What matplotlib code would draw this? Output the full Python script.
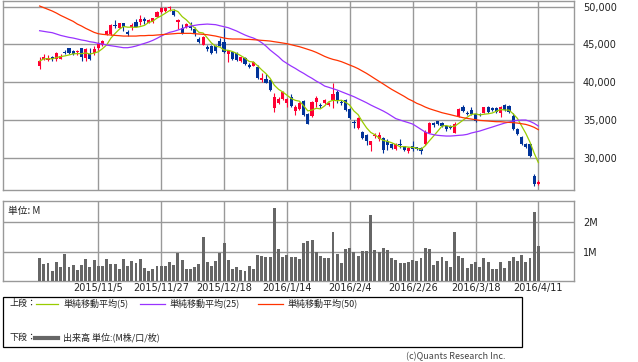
import numpy as np
import pandas as pd
import matplotlib
matplotlib.use('Agg')
import matplotlib.pyplot as plt
from matplotlib.lines import Line2D
from matplotlib.patches import Rectangle
from matplotlib.ticker import FuncFormatter

plt.rcParams['font.family'] = ['Noto Sans CJK JP', 'DejaVu Sans']

# 日付ラベル (15営業日ごと)
date_labels = ['2015/11/5', '2015/11/27', '2015/12/18', '2016/1/14',
               '2016/2/4', '2016/2/26', '2016/3/18', '2016/4/11']
date_pos = [14, 29, 44, 59, 74, 89, 104, 119]

# 四本値
opens = [42190, 43030, 42940, 43380, 43030, 43110, 44040, 44480, 44170, 43950,
         44480, 43160, 43690, 43820, 44480, 44920, 46340, 46340, 47570, 47220,
         47790, 46600, 47350, 48010, 48010, 48320, 47880, 48010, 48680, 49250,
         49380, 49780, 49470, 48010, 47130, 47350, 47440, 47040, 45680, 44880,
         44700, 44790, 44790, 45500, 45360, 43730, 44040, 43910, 42800, 43160,
         42270, 42190, 42050, 40290, 40380, 40290, 36530, 37200, 37730, 37200,
         38080, 36230, 36400, 37500, 35780, 35520, 37420, 36970, 37200, 36980,
         37640, 38740, 37420, 37640, 36400, 34770, 33870, 33340, 33030, 31620,
         32860, 32500, 32590, 32150, 31800, 31090, 31800, 31490, 30930, 31540,
         31360, 31270, 31810, 33300, 34550, 34860, 34640, 34200, 34110, 33300,
         35340, 36660, 35960, 36310, 35780, 35780, 35960, 36660, 36530, 36530,
         35870, 36970, 36840, 35520, 33760, 32740, 31760, 31850, 27580, 26520]
highs = [43290, 43730, 43600, 43470, 44040, 43690, 44260, 44570, 44260, 44260,
         44570, 44480, 44480, 44790, 45360, 45590, 46910, 47700, 48230, 47880,
         47880, 46910, 47790, 48370, 48900, 48590, 48320, 48540, 49430, 49910,
         50000, 50130, 49650, 48370, 47700, 47790, 47970, 47260, 45940, 46120,
         44880, 44920, 44880, 45810, 47130, 44260, 44130, 44040, 43380, 43290,
         42580, 42760, 42270, 41170, 41080, 40380, 38520, 38080, 38880, 37950,
         38390, 36980, 37420, 37640, 35870, 37500, 38170, 37200, 37820, 37420,
         39850, 38960, 37640, 37730, 36530, 34990, 35430, 33480, 33120, 32240,
         33250, 33340, 32680, 32500, 31930, 31890, 32500, 31580, 31360, 32150,
         31450, 31360, 33650, 34770, 34770, 34900, 34720, 34280, 34280, 34770,
         36540, 36980, 36220, 36750, 35870, 35870, 36750, 36840, 36660, 36660,
         36840, 37060, 36930, 35870, 33980, 32870, 31980, 31980, 27840, 27050]
lows = [41750, 42940, 42850, 42850, 42850, 43030, 43690, 43730, 43600, 43600,
        42850, 42850, 42940, 43600, 44260, 44790, 46200, 46250, 47130, 47130,
        46820, 46120, 46910, 47260, 47570, 47700, 47790, 47880, 48590, 49210,
        49340, 49470, 48760, 46990, 46340, 47130, 46910, 46120, 45140, 44880,
        44170, 43730, 43910, 44830, 43820, 42720, 42940, 42850, 42720, 42270,
        41830, 42140, 40380, 40070, 39850, 38880, 36090, 37060, 37640, 36760,
        36760, 35650, 36310, 35520, 34460, 35430, 36760, 36530, 37060, 36840,
        36530, 37200, 36980, 36230, 35120, 33960, 33780, 32500, 31620, 30930,
        32590, 32150, 30660, 31050, 31180, 31000, 31270, 30930, 30660, 30930,
        31050, 30530, 31670, 33210, 34100, 34330, 34110, 33560, 33760, 33300,
        35340, 36090, 35650, 35650, 34770, 35560, 35870, 35960, 36180, 35960,
        35340, 36220, 35870, 33650, 33000, 31670, 31320, 30130, 26300, 26350]
closes = [42800, 43380, 43160, 43030, 43910, 43470, 43820, 43820, 43730, 44130,
          43380, 44350, 43070, 44350, 45010, 45450, 46820, 47570, 47390, 47790,
          47350, 46340, 47570, 47260, 48320, 48140, 48230, 48450, 49340, 49780,
          49870, 50000, 48900, 48230, 46470, 47700, 47170, 46380, 45320, 46030,
          44440, 43820, 44170, 44830, 44040, 44260, 43030, 42940, 43290, 42410,
          42050, 42670, 40510, 40510, 39940, 38960, 38080, 37820, 38740, 37820,
          36840, 36760, 37280, 35650, 34460, 37420, 37950, 36840, 37640, 37200,
          38390, 37640, 37200, 36310, 35210, 34550, 35210, 32590, 32230, 32150,
          33030, 33030, 30970, 31620, 31270, 31800, 31620, 31050, 31270, 31140,
          31180, 30840, 33430, 34630, 34280, 34420, 34200, 33760, 33940, 34460,
          36400, 36220, 35780, 35780, 34900, 35650, 36660, 36090, 36310, 36090,
          36750, 36310, 36090, 33760, 33100, 31760, 31400, 30220, 26520, 26830]

# 出来高 (M)
volume = [0.80, 0.59, 0.62, 0.36, 0.66, 0.49, 0.92, 0.49, 0.56, 0.39,
          0.56, 0.76, 0.49, 0.72, 0.52, 0.52, 0.76, 0.59, 0.59, 0.42,
          0.76, 0.52, 0.69, 0.62, 0.76, 0.46, 0.36, 0.42, 0.52, 0.52,
          0.52, 0.66, 0.56, 0.96, 0.72, 0.42, 0.42, 0.49, 0.59, 1.52,
          0.66, 0.52, 0.69, 0.96, 1.32, 0.72, 0.42, 0.49, 0.39, 0.36,
          0.52, 0.42, 0.89, 0.86, 0.82, 0.82, 2.49, 1.09, 0.82, 0.89,
          0.82, 0.82, 0.76, 1.29, 1.36, 1.42, 0.99, 0.86, 0.79, 0.79,
          1.66, 0.92, 0.62, 1.09, 1.12, 0.99, 0.86, 1.02, 1.02, 2.26,
          1.06, 0.99, 1.12, 1.06, 0.79, 0.72, 0.62, 0.62, 0.66, 0.72,
          0.69, 0.79, 1.12, 1.09, 0.56, 0.69, 0.82, 0.69, 0.49, 1.66,
          0.86, 0.79, 0.46, 0.59, 0.66, 0.49, 0.79, 0.66, 0.42, 0.42,
          0.66, 0.46, 0.69, 0.82, 0.69, 0.89, 0.66, 0.79, 2.36, 1.19]

# 移動平均 (25日, 50日) - 画面外の過去データを含むので読み取り値
ma25 = [46820, 46730, 46640, 46560, 46380, 46200, 46070, 45940, 45850, 45720,
        45590, 45500, 45360, 45280, 45140, 45060, 44920, 44830, 44750, 44660,
        44570, 44570, 44660, 44790, 44970, 45140, 45320, 45540, 45810, 46110,
        46380, 46600, 46730, 46910, 47090, 47310, 47440, 47530, 47620, 47660,
        47700, 47660, 47620, 47480, 47350, 47220, 47000, 46780, 46510, 46250,
        46030, 45850, 45590, 45230, 44790, 44260, 43820, 43380, 42850, 42490,
        42140, 41830, 41480, 41170, 40820, 40510, 40150, 39850, 39490, 39320,
        39140, 38960, 38740, 38520, 38300, 38080, 37810, 37550, 37280, 36980,
        36710, 36450, 36180, 35870, 35520, 35170, 34990, 34810, 34640, 34460,
        34110, 33750, 33400, 33180, 33050, 32960, 32910, 32870, 32870, 32910,
        32960, 33000, 33090, 33270, 33400, 33530, 33710, 33890, 34060, 34240,
        34420, 34590, 34720, 34860, 34950, 34990, 34990, 34810, 34550, 34190]
ma50 = [50090, 49870, 49650, 49430, 49160, 48850, 48590, 48320, 48060, 47700,
        47440, 47130, 46870, 46600, 46420, 46340, 46290, 46250, 46200, 46160,
        46110, 46110, 46110, 46110, 46160, 46160, 46200, 46200, 46250, 46290,
        46340, 46380, 46420, 46470, 46470, 46470, 46470, 46420, 46380, 46340,
        46290, 46200, 46110, 45980, 45850, 45760, 45720, 45720, 45720, 45670,
        45670, 45630, 45590, 45540, 45500, 45450, 45360, 45280, 45190, 45100,
        44970, 44830, 44700, 44530, 44350, 44170, 43950, 43690, 43420, 43200,
        43020, 42890, 42720, 42500, 42270, 42050, 41790, 41480, 41170, 40820,
        40460, 40110, 39760, 39400, 39050, 38740, 38430, 38120, 37770, 37510,
        37200, 36980, 36710, 36490, 36310, 36140, 35960, 35830, 35700, 35560,
        35430, 35300, 35210, 35120, 35030, 34940, 34900, 34860, 34810, 34770,
        34770, 34720, 34680, 34640, 34590, 34500, 34410, 34240, 34020, 33710]

col_up = '#ff0033'
col_down = '#003399'
col_ma5 = '#99cc00'
col_ma25 = '#9933ff'
col_ma50 = '#ff3300'
col_grid = '#999999'
col_text = '#222222'

x = np.arange(len(closes))
o = np.array(opens, dtype=float)
c = np.array(closes, dtype=float)
h = np.array(highs, dtype=float)
l = np.array(lows, dtype=float)
ma5 = pd.Series(c).rolling(5, min_periods=1).mean()

fig = plt.figure(figsize=(6.38, 3.62), dpi=100)
ax = fig.add_axes([3/638, 1 - 190.3/362, 571/638, 189.6/362])
axv = fig.add_axes([3/638, 1 - 280.5/362, 571/638, 79.5/362])

# ローソク足
colors = np.where(c >= o, col_up, col_down)
ax.vlines(x, l, h, colors=colors, lw=0.8, zorder=3)
body = np.maximum(np.abs(c - o), 120)
ax.bar(x, body, bottom=np.minimum(o, c), width=0.75, color=colors,
       linewidth=0, zorder=3)

# 移動平均
ax.plot(x, ma5, color=col_ma5, lw=0.9, zorder=4)
ax.plot(x, ma25, color=col_ma25, lw=0.9, zorder=4)
ax.plot(x, ma50, color=col_ma50, lw=0.9, zorder=4)

ax.set_xlim(-8.74, 127.5)
ax.set_ylim(25682, 50795)
ax.yaxis.tick_right()
ax.set_yticks([30000, 35000, 40000, 45000, 50000])
ax.yaxis.set_major_formatter(FuncFormatter(lambda v, p: f'{int(v):,}'))
ax.set_xticks(date_pos)
ax.set_xticklabels([])
ax.tick_params(length=0, labelsize=7, pad=6.5, colors=col_text)
for t in ax.get_yticklabels():
    t.set_fontfamily('DejaVu Sans')
ax.grid(True, color=col_grid, lw=1.0)
ax.set_axisbelow(True)
for s in ax.spines.values():
    s.set_color(col_grid)
    s.set_linewidth(1.0)

# 出来高
axv.bar(x, volume, width=0.7, color='#666666', linewidth=0, zorder=3)
axv.set_xlim(-8.74, 127.5)
axv.set_ylim(0.04, 2.72)
axv.yaxis.tick_right()
axv.set_yticks([1, 2])
axv.set_yticklabels(['1M', '2M'])
axv.set_xticks(date_pos)
axv.set_xticklabels(date_labels)
axv.tick_params(length=0, labelsize=7, colors=col_text)
axv.tick_params(axis='y', pad=6.5)
axv.tick_params(axis='x', pad=1.5)
for t in axv.get_xticklabels() + axv.get_yticklabels():
    t.set_fontfamily('DejaVu Sans')
axv.grid(True, color=col_grid, lw=1.0)
axv.set_axisbelow(True)
for s in axv.spines.values():
    s.set_color(col_grid)
    s.set_linewidth(1.0)
axv.text(0.008, 0.88, '単位: M', transform=axv.transAxes, fontsize=7,
         ha='left', va='center', color=col_text)

# 凡例
fig.add_artist(Rectangle((2.7/638, 1 - 346.7/362), 519/638, 50/362,
                         transform=fig.transFigure, fill=False,
                         edgecolor='black', lw=0.9))
ly1 = 1 - 303.5/362
ly2 = 1 - 337.5/362
fig.text(10/638, ly1, '上段：', fontsize=6.5, va='center', color=col_text)
legend_items = [(36, 58, 63, col_ma5, '単純移動平均(5)'),
                (140, 165, 170, col_ma25, '単純移動平均(25)'),
                (258, 283, 287, col_ma50, '単純移動平均(50)')]
for x0, x1, tx, col, lab in legend_items:
    fig.add_artist(Line2D([x0/638, x1/638], [ly1, ly1], color=col, lw=0.9,
                          transform=fig.transFigure))
    fig.text(tx/638, ly1, lab, fontsize=6.5, va='center', color=col_text)
fig.text(10/638, ly2, '下段：', fontsize=6.5, va='center', color=col_text)
fig.add_artist(Line2D([35/638, 58/638], [ly2, ly2], color='#666666', lw=3,
                      transform=fig.transFigure))
fig.text(63/638, ly2, '出来高 単位:(M株/口/枚)', fontsize=6.5, va='center',
         color=col_text)

fig.text(505/638, 1 - 357/362, '(c)Quants Research Inc.', fontsize=6.5,
         ha='right', va='center', color='#444444')

fig.savefig('out.png', dpi=100)
